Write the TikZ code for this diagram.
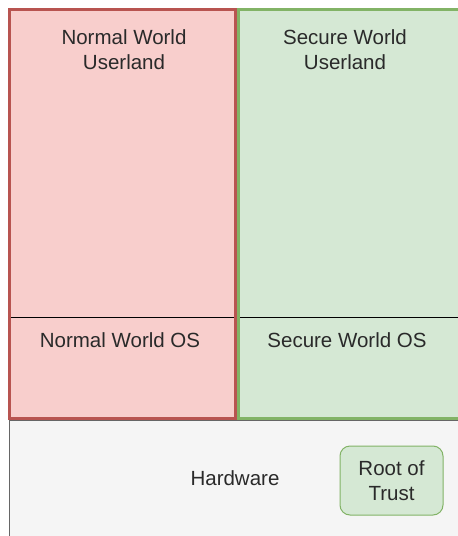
\documentclass[tikz,border=0pt]{standalone}
\usepackage{fontspec}
\setmainfont{Liberation Sans}
\definecolor{nwfill}{HTML}{F8CECC}
\definecolor{nwline}{HTML}{B85450}
\definecolor{swfill}{HTML}{D5E8D4}
\definecolor{swline}{HTML}{82B366}
\definecolor{hwfill}{HTML}{F5F5F5}
\definecolor{hwline}{HTML}{666666}
\definecolor{txt}{HTML}{2A2A2A}
\tikzset{
  region/.style={rectangle, inner sep=0pt, outer sep=0pt, anchor=north west},
  normalworld/.style={region, fill=nwfill, draw=nwline, line width=3pt},
  secureworld/.style={region, fill=swfill, draw=swline, line width=3pt},
  hardware/.style={region, fill=hwfill, draw=hwline, line width=1pt},
  rootbox/.style={rectangle, rounded corners=10pt, fill=swfill, draw=swline, line width=1pt,
                  minimum width=103pt, minimum height=69pt, inner sep=0pt},
  label/.style={text=txt, align=center, inner sep=0pt, font=\fontsize{20.5}{25}\selectfont},
  divider/.style={draw=black, line width=1pt}
}
\begin{document}
\begin{tikzpicture}[x=1pt, y=-1pt]
  \useasboundingbox (0,0) rectangle (458,536);
  \fill[white] (0,0) rectangle (458,536);

  % hardware layer at the bottom
  \node[hardware, minimum width=470pt, minimum height=140pt] (hw) at (9,420) {};

  % the two worlds
  \node[normalworld, minimum width=225.5pt, minimum height=409pt] (nw) at (9.5,9.5) {};
  \node[secureworld, minimum width=240pt, minimum height=409pt] (sw) at (238.5,9.5) {};

  % userland / OS boundaries
  \coordinate (nwl) at (11,317);
  \coordinate (nwr) at (233.5,317);
  \coordinate (swl) at (240,317);
  \coordinate (swr) at (458,317);
  \draw[divider] (nwl) -- (nwr);
  \draw[divider] (swl) -- (swr);

  % labels
  \node[label] (nwu) at (124,49.5) {Normal World\\Userland};
  \node[label] (swu) at (345,49.5) {Secure World\\Userland};
  \node[label] (nwos) at (120,340) {Normal World OS};
  \node[label] (swos) at (347,340) {Secure World OS};
  \node[label] (hwt) at (235,478) {Hardware};

  % root of trust
  \node[rootbox] (rot) at (391.5,480.5) {};
  \node[label] (rott) at (rot.center) {Root of\\Trust};
\end{tikzpicture}
\end{document}
